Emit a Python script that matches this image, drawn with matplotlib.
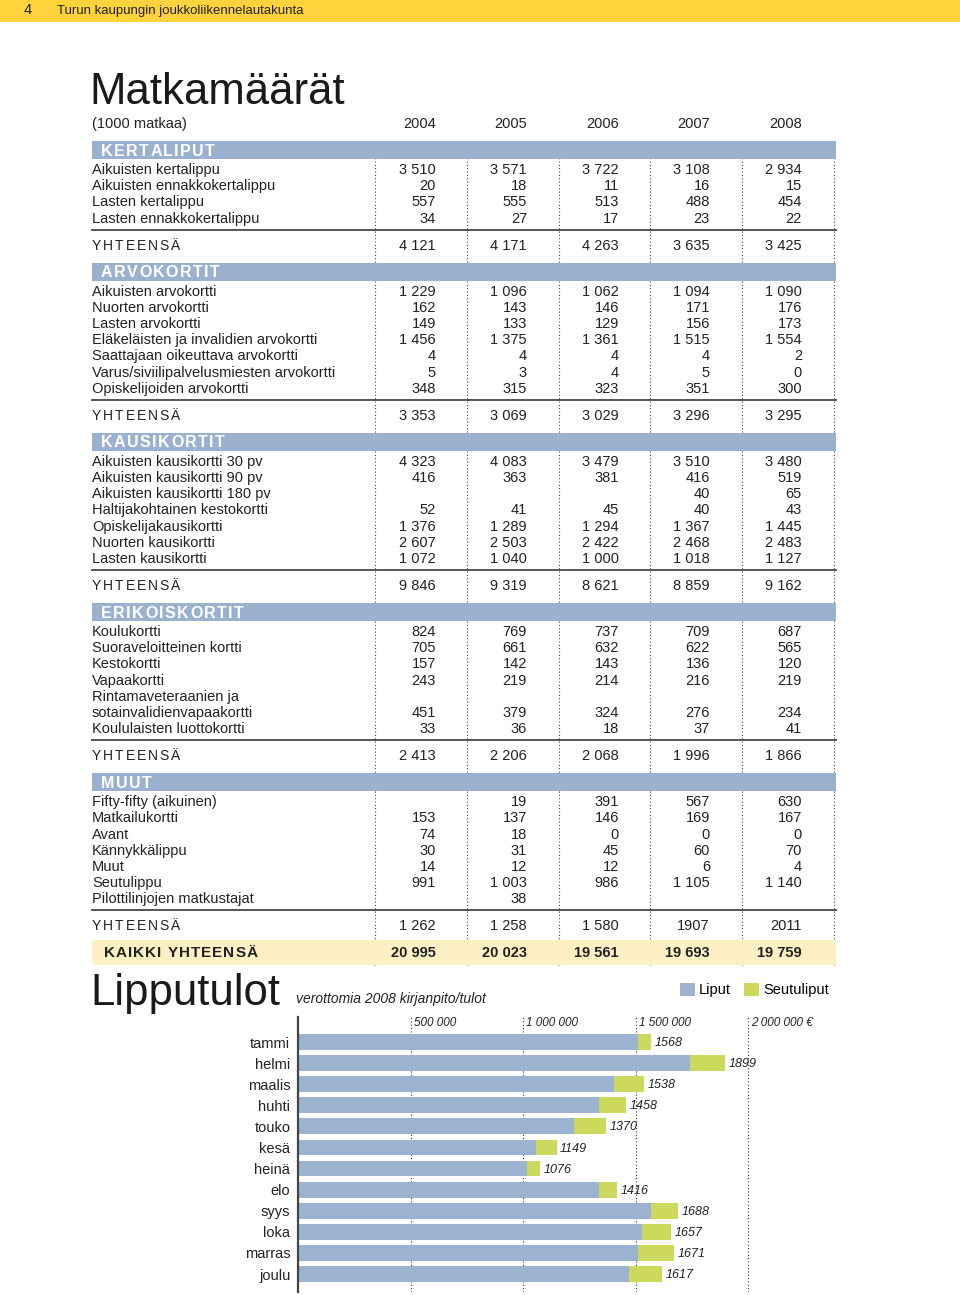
import matplotlib
matplotlib.use('Agg')
import matplotlib.pyplot as plt
from matplotlib.patches import Rectangle
from matplotlib import font_manager

installed = {f.name for f in font_manager.fontManager.ttflist}
NARROW = 'Liberation Sans Narrow' if 'Liberation Sans Narrow' in installed else 'Liberation Sans'
SANS = ['Liberation Sans', 'DejaVu Sans']

# --- Matkamäärät (1000 matkaa) ---
years = ['2004', '2005', '2006', '2007', '2008']

kertaliput_rows = ['Aikuisten kertalippu', 'Aikuisten ennakkokertalippu',
                   'Lasten kertalippu', 'Lasten ennakkokertalippu']
kertaliput_values = [
    [3510, 3571, 3722, 3108, 2934],
    [20, 18, 11, 16, 15],
    [557, 555, 513, 488, 454],
    [34, 27, 17, 23, 22],
]
kertaliput_total = [4121, 4171, 4263, 3635, 3425]

arvokortit_rows = ['Aikuisten arvokortti', 'Nuorten arvokortti', 'Lasten arvokortti',
                   'Eläkeläisten ja invalidien arvokortti', 'Saattajaan oikeuttava arvokortti',
                   'Varus/siviilipalvelusmiesten arvokortti', 'Opiskelijoiden arvokortti']
arvokortit_values = [
    [1229, 1096, 1062, 1094, 1090],
    [162, 143, 146, 171, 176],
    [149, 133, 129, 156, 173],
    [1456, 1375, 1361, 1515, 1554],
    [4, 4, 4, 4, 2],
    [5, 3, 4, 5, 0],
    [348, 315, 323, 351, 300],
]
arvokortit_total = [3353, 3069, 3029, 3296, 3295]

kausikortit_rows = ['Aikuisten kausikortti 30 pv', 'Aikuisten kausikortti 90 pv',
                    'Aikuisten kausikortti 180 pv', 'Haltijakohtainen kestokortti',
                    'Opiskelijakausikortti', 'Nuorten kausikortti', 'Lasten kausikortti']
kausikortit_values = [
    [4323, 4083, 3479, 3510, 3480],
    [416, 363, 381, 416, 519],
    [None, None, None, 40, 65],
    [52, 41, 45, 40, 43],
    [1376, 1289, 1294, 1367, 1445],
    [2607, 2503, 2422, 2468, 2483],
    [1072, 1040, 1000, 1018, 1127],
]
kausikortit_total = [9846, 9319, 8621, 8859, 9162]

erikois_rows = ['Koulukortti', 'Suoraveloitteinen kortti', 'Kestokortti', 'Vapaakortti',
                'Rintamaveteraanien ja', 'sotainvalidienvapaakortti', 'Koululaisten luottokortti']
erikois_values = [
    [824, 769, 737, 709, 687],
    [705, 661, 632, 622, 565],
    [157, 142, 143, 136, 120],
    [243, 219, 214, 216, 219],
    [None, None, None, None, None],
    [451, 379, 324, 276, 234],
    [33, 36, 18, 37, 41],
]
erikois_total = [2413, 2206, 2068, 1996, 1866]

muut_rows = ['Fifty-fifty (aikuinen)', 'Matkailukortti', 'Avant', 'Kännykkälippu', 'Muut',
             'Seutulippu', 'Pilottilinjojen matkustajat']
muut_values = [
    [None, 19, 391, 567, 630],
    [153, 137, 146, 169, 167],
    [74, 18, 0, 0, 0],
    [30, 31, 45, 60, 70],
    [14, 12, 12, 6, 4],
    [991, 1003, 986, 1105, 1140],
    [None, 38, None, None, None],
]
muut_total = ['1 262', '1 258', '1 580', '1907', '2011']

kaikki_total = [20995, 20023, 19561, 19693, 19759]

# --- Lipputulot 2008 (1000 €) ---
months = ['tammi', 'helmi', 'maalis', 'huhti', 'touko', 'kesä',
          'heinä', 'elo', 'syys', 'loka', 'marras', 'joulu']
liput_k = [1512, 1740, 1405, 1337, 1226, 1059, 1019, 1337, 1568, 1527, 1509, 1473]
seutu_k = [56, 159, 133, 121, 144, 90, 57, 79, 120, 130, 162, 144]
tick_values = [500000, 1000000, 1500000, 2000000]
tick_labels = ['500 000', '1 000 000', '1 500 000', '2 000 000 €']

YELLOW = '#FFD33C'
BAND = '#9BB1CF'
PALE = '#FCF0C4'
BLUE = '#9BB2D1'
GREEN = '#CCD95C'
DARK = '#222222'


def fmt(v):
    if v is None:
        return ''
    if isinstance(v, str):
        return v
    return f'{v:,}'.replace(',', ' ')


fig = plt.figure(figsize=(9.6, 12.95), dpi=100)
ax = fig.add_axes([0, 0, 1, 1])
ax.set_xlim(0, 960)
ax.set_ylim(1295, 0)
ax.axis('off')
renderer = fig.canvas.get_renderer()


def spaced_text(x, y, s, gap, **kw):
    # letter-spaced caps, one glyph at a time (axes units == pixels here)
    for ch in s:
        if ch == ' ':
            x += kw['fontsize'] * 0.28 * 100 / 72 + gap
            continue
        t = ax.text(x, y, ch, **kw)
        x += t.get_window_extent(renderer).width + gap


# page header
ax.add_patch(Rectangle((0, 0), 960, 22, color=YELLOW, lw=0))
ax.text(24, 10, '4', fontsize=10.5, family=SANS, va='center', color=DARK)
ax.text(57, 11, 'Turun kaupungin joukkoliikennelautakunta', fontsize=9.5, family=SANS,
        va='center', color=DARK)

ax.text(89, 104, 'Matkamäärät', fontsize=31.5, family=SANS, va='baseline', color='#1a1a1a')

LEFT, RIGHT = 92, 836
COL_RIGHT = [436, 527, 619, 710, 802]
SEP_X = [375, 467, 559, 650, 742, 834]
STEP = 16.2

ax.text(LEFT, 124, '(1000 matkaa)', fontsize=10.5, family=SANS, va='center', color=DARK)
for x, yr in zip(COL_RIGHT, years):
    ax.text(x, 124, yr, fontsize=10.5, family=SANS, va='center', ha='right', color=DARK)

sections = [
    ('KERTALIPUT', kertaliput_rows, kertaliput_values, kertaliput_total),
    ('ARVOKORTIT', arvokortit_rows, arvokortit_values, arvokortit_total),
    ('KAUSIKORTIT', kausikortit_rows, kausikortit_values, kausikortit_total),
    ('ERIKOISKORTIT', erikois_rows, erikois_values, erikois_total),
    ('MUUT', muut_rows, muut_values, muut_total),
]

y = 141
for name, rows, vals, tot in sections:
    ax.add_patch(Rectangle((LEFT, y), RIGHT - LEFT, 18, color=BAND, lw=0, zorder=3))
    spaced_text(101, y + 10, name, 1.4, fontsize=11.5, family=SANS, fontweight='bold',
                color='white', va='center', zorder=4)
    ry = y + 29
    for i, (r, v) in enumerate(zip(rows, vals)):
        yy = ry + i * STEP
        ax.text(LEFT, yy, r, fontsize=10.5, family=NARROW, va='center', color=DARK)
        for x, cell in zip(COL_RIGHT, v):
            ax.text(x, yy, fmt(cell), fontsize=10.5, family=NARROW, va='center',
                    ha='right', color=DARK)
    line_y = ry + (len(rows) - 1) * STEP + 11
    ax.plot([LEFT, RIGHT], [line_y, line_y], color='#555555', lw=1.4)
    yt = line_y + 16
    spaced_text(LEFT, yt, 'YHTEENSÄ', 1.9, fontsize=10, family=SANS, va='center', color=DARK)
    for x, cell in zip(COL_RIGHT, tot):
        ax.text(x, yt, fmt(cell), fontsize=10.5, family=NARROW, va='center',
                ha='right', color=DARK)
    y = yt + 17

kaikki_y = y - 3.5
ax.add_patch(Rectangle((LEFT, kaikki_y), RIGHT - LEFT, 25, color=PALE, lw=0, zorder=3))
spaced_text(104, kaikki_y + 13.5, 'KAIKKI YHTEENSÄ', 1.0, fontsize=11, family=SANS,
            fontweight='bold', va='center', color=DARK, zorder=4)
for x, cell in zip(COL_RIGHT, kaikki_total):
    ax.text(x, kaikki_y + 13.5, fmt(cell), fontsize=10.5, family=NARROW, fontweight='bold',
            va='center', ha='right', color=DARK, zorder=4)

ax.vlines(SEP_X, 141, kaikki_y + 25, colors='#444444', linestyles=(0, (1, 2)), lw=0.8, zorder=1)

# --- Lipputulot ---
ax.text(90, 1005, 'Lipputulot', fontsize=31.5, family=SANS, va='baseline', color='#1a1a1a')
ax.text(296, 999, 'verottomia 2008 kirjanpito/tulot', fontsize=10, family=SANS,
        style='italic', va='center', color=DARK)

ax_b = fig.add_axes([298 / 960, 3 / 1295, 540 / 960, 275 / 1295])
ax_b.set_facecolor('none')
pos = list(range(len(months)))
liput = [v * 1000 for v in liput_k]
seutu = [v * 1000 for v in seutu_k]
b1 = ax_b.barh(pos, liput, height=0.75, color=BLUE, zorder=2)
b2 = ax_b.barh(pos, seutu, left=liput, height=0.75, color=GREEN, zorder=2)
ax_b.set_xlim(0, 2.4e6)
ax_b.set_ylim(11.85, -1.185)
ax_b.set_yticks(pos, months)
ax_b.tick_params(axis='y', length=0, pad=5.5, labelsize=10.5, labelcolor=DARK)
for lbl in ax_b.get_yticklabels():
    lbl.set_family(SANS)
ax_b.set_xticks(tick_values)
ax_b.tick_params(axis='x', length=0, labelbottom=False)
ax_b.grid(axis='x', linestyle=(0, (1, 2)), color='#333333', lw=0.8, zorder=1)
ax_b.set_axisbelow(True)
for s in ['top', 'right', 'bottom']:
    ax_b.spines[s].set_visible(False)
ax_b.spines['left'].set_color('#444444')
ax_b.spines['left'].set_linewidth(1.6)

for t, l in zip(tick_values, tick_labels):
    ax_b.text(t + 15000, -0.9, l, fontsize=8.5, family=SANS, style='italic',
              va='center', color=DARK)
for i, (a, b) in enumerate(zip(liput_k, seutu_k)):
    ax_b.text((a + b) * 1000 + 16000, i + 0.05, str(a + b), fontsize=9, family=SANS,
              style='italic', va='center', color=DARK)

fig.legend([b1, b2], ['Liput', 'Seutuliput'], loc='center left',
           bbox_to_anchor=(680 / 960, 1 - 990 / 1295), ncol=2, frameon=False,
           handlelength=1.0, handleheight=1.0, handletextpad=0.3, columnspacing=0.9,
           prop={'family': SANS, 'size': 10.5}, borderpad=0, borderaxespad=0)

fig.savefig('out.png', dpi=100)
